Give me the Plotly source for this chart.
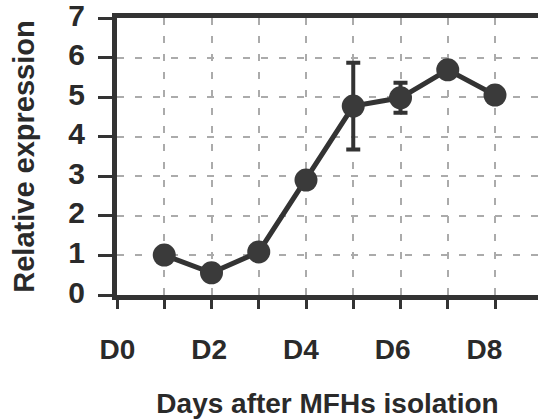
import plotly.graph_objects as go

days = [1, 2, 3, 4, 5, 6, 7, 8]
expression = [1.01, 0.56, 1.09, 2.91, 4.78, 4.99, 5.70, 5.06]
errors = [0, 0, 0, 0, 1.1, 0.38, 0, 0]
label_vals = [0, 2, 4, 6, 8]
label_text = ["D0", "D2", "D4", "D6", "D8"]
y_ticks = [0, 1, 2, 3, 4, 5, 6, 7]

dark = "#333333"
grid = "#ababab"

fig = go.Figure()
fig.add_trace(go.Scatter(
    x=days, y=expression, mode="lines+markers",
    line=dict(color=dark, width=5),
    marker=dict(size=23, color="#3a3a3a", line=dict(width=0)),
    error_y=dict(type="data", array=errors, visible=True, color=dark,
                 thickness=4, width=7),
    showlegend=False, cliponaxis=False,
))
# invisible trace for label axis
fig.add_trace(go.Scatter(x=[label_vals[0]], y=[0], xaxis="x2", mode="markers",
                         marker=dict(opacity=0), showlegend=False, hoverinfo="skip"))

fig.update_layout(
    width=538, height=419,
    margin=dict(l=117, r=0, t=18, b=124),
    plot_bgcolor="white", paper_bgcolor="white",
    font=dict(family="Arial, Liberation Sans, sans-serif", color="#2a2a2a"),
    xaxis=dict(
        range=[0, 8.91], tickmode="linear", tick0=0, dtick=1,
        showticklabels=False,
        showline=True, linecolor=dark, linewidth=5, mirror=True,
        ticks="outside", ticklen=9, tickwidth=3, tickcolor=dark,
        showgrid=True, gridcolor=grid, gridwidth=2, griddash="7px,11px",
        zeroline=False,
    ),
    xaxis2=dict(
        overlaying="x", anchor="y", side="bottom",
        range=[-0.01, 9.17], tickvals=label_vals, ticktext=label_text,
        showgrid=False, showline=False, zeroline=False, ticks="",
        tickfont=dict(size=28, family="Arial, Liberation Sans, sans-serif", weight="bold"),
        ticklabelstandoff=35,
        title=dict(text="<b>Days after MFHs isolation</b>",
                   font=dict(size=28), standoff=34),
    ),
    yaxis=dict(
        range=[0, 7.01], tickvals=y_ticks,
        showline=True, linecolor=dark, linewidth=5,
        ticks="outside", ticklen=14, tickwidth=3, tickcolor=dark,
        showgrid=True, gridcolor=grid, gridwidth=2, griddash="7px,11px",
        zeroline=False,
        tickfont=dict(size=30, family="Arial, Liberation Sans, sans-serif", weight="bold"),
        ticklabelstandoff=7, ticklabelshift=-3, ticklabeloverflow="allow",
        title=dict(text="<b>Relative expression</b>", font=dict(size=29), standoff=27),
    ),
)

fig.write_html("out.html")
